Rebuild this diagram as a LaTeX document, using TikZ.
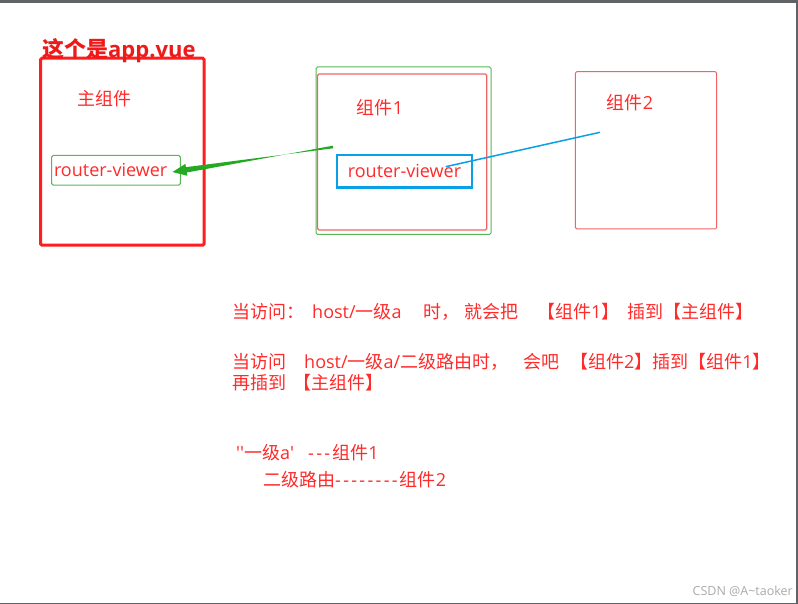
\documentclass[tikz,border=0pt]{standalone}
\usepackage{fontspec}
\newfontfamily\cjk{Noto Sans CJK SC}
\newfontfamily\lat{Open Sans}
\usetikzlibrary{calc}
\definecolor{tred}{HTML}{FF2A2A}
\definecolor{titlered}{HTML}{EE1A1A}
\definecolor{boxred}{HTML}{FF1E1E}
\definecolor{lred}{HTML}{F26464}
\definecolor{lgreen}{HTML}{55B855}
\definecolor{agreen}{HTML}{22AA22}
\definecolor{lblue}{HTML}{0AA0E6}
\definecolor{frame}{HTML}{5F6366}
\definecolor{wm}{HTML}{AAAAAA}
\newcommand\dsh{-\kern2.3pt}
\tikzset{
  txt/.style={inner sep=0pt, text=tred, font=\cjk\fontsize{18}{22}\selectfont},
  ltxt/.style={txt, anchor=west},
  thinbox/.style={draw=#1, line width=1pt, rounded corners=1.5pt, inner sep=0pt},
}
\begin{document}
\begin{tikzpicture}[x=1pt,y=-1pt]
\useasboundingbox (0,0) rectangle (798,604);
\fill[white] (0,0) rectangle (798,604);
% window frame
\fill[frame] (0,0) rectangle (798,2.7);
\fill[frame] (795.5,0) rectangle (798,604);
\fill[frame] (0,602.5) rectangle (798,604);

% main component (app.vue)
\node[draw=boxred, line width=3pt, rounded corners=1.5pt, minimum width=163.7pt, minimum height=187pt, inner sep=0pt] (appbox) at (122.35,151.7) {};
\node[txt, anchor=west, text=titlered, font=\fontsize{22}{26}\selectfont\bfseries] (title) at (42,51) {{\cjk 这个是}{\lat app.vue}};
\node[txt] (mainlbl) at (104.5,99) {主组件};
\node[thinbox=lgreen, text=tred, font=\lat\fontsize{18}{22}\selectfont, text width=124pt, align=left, inner xsep=2.3pt, inner ysep=0pt, minimum height=29.7pt] (rv1) at (116,170.2) {router-viewer};

% component 1
\node[thinbox=lgreen, minimum width=175pt, minimum height=167.5pt] (c1out) at (403.5,150.75) {};
\node[thinbox=lred, line width=1.3pt, minimum width=169.2pt, minimum height=156pt] (c1in) at (402.1,152) {};
\node[txt] (c1lbl) at (380,108) {组件{\lat 1}};
\node[draw=lblue, line width=2.5pt, inner sep=0pt, minimum width=135pt, minimum height=32.2pt, text=tred, font=\lat\fontsize{18}{22}\selectfont] (rv2) at (404.5,171.3) {router-viewer};

% component 2
\node[thinbox=lred, minimum width=141.4pt, minimum height=157.3pt] (c2) at (646,150.35) {};
\node[txt] (c2lbl) at (630,103) {组件{\lat 2}};

% blue connector
\coordinate (b1) at (445.7,166.7);
\coordinate (b2) at (600,132.3);
\draw[lblue, line width=1.5pt] (b1) -- (b2);

% green tapered arrow
\coordinate (g0) at (333,147);
\coordinate (tip) at (172.5,172);
\coordinate (hb) at ($(tip)!14pt!(g0)$);
\fill[agreen] ($(g0)!1.3pt!90:(tip)$) -- ($(hb)!2.7pt!-90:(tip)$) -- ($(hb)!6pt!-90:(tip)$) -- (tip)
  -- ($(hb)!6pt!90:(tip)$) -- ($(hb)!2.7pt!90:(tip)$) -- ($(g0)!1.3pt!-90:(tip)$) -- cycle;

% explanation text
\node[ltxt] (l1a) at (232,311.5) {当访问：};
\node[ltxt] (l1b) at (312,311.5) {{\lat host/}一级{\lat a}};
\node[ltxt] (l1c) at (423,311.5) {时，};
\node[ltxt] (l1d) at (464,311.5) {就会把};
\node[ltxt] (l1e) at (537,311.5) {【组件{\lat 1}】};
\node[ltxt] (l1f) at (627,311.5) {插到【主组件】};

\node[ltxt] (l2a) at (232,361.5) {当访问};
\node[ltxt] (l2b) at (304,361.5) {{\lat host/}一级{\lat a/}二级路由时，};
\node[ltxt] (l2c) at (523,361.5) {会吧};
\node[ltxt] (l2d) at (570,361.5) {【组件{\lat 2}】插到【组件{\lat 1}】};

\node[ltxt] (l3a) at (232,383) {再插到};
\node[ltxt] (l3b) at (293,383) {【主组件】};

\node[ltxt] (l4a) at (236,453) {{\lat ''}一级{\lat a'}};
\node[ltxt] (l4b) at (308,453) {{\lat\dsh\dsh\dsh}组件{\lat 1}};

\node[ltxt] (l5a) at (263,480) {二级路由};
\node[ltxt] (l5b) at (335,480) {{\lat\dsh\dsh\dsh\dsh\dsh\dsh\dsh\dsh}组件{\lat 2}};

% watermark
\node[inner sep=0pt, anchor=east, text=wm, font=\lat\fontsize{12.5}{14}\selectfont] (wmk) at (793,591.5) {CSDN @A\textasciitilde taoker};
\end{tikzpicture}
\end{document}
